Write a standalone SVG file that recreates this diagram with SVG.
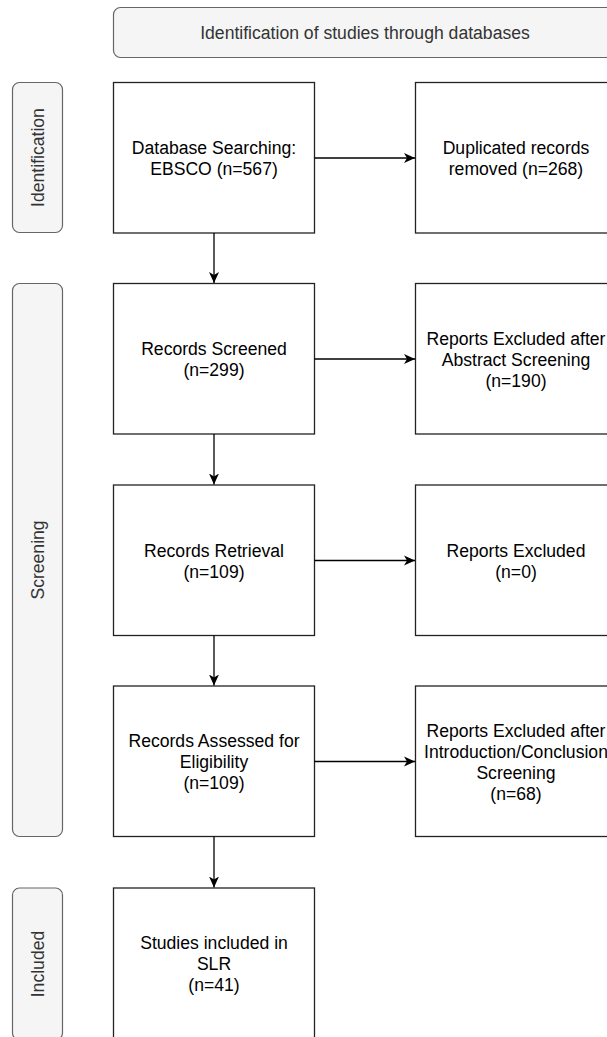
<svg xmlns="http://www.w3.org/2000/svg" width="607" height="1037" viewBox="0 0 607 1037">
<style>
.lane{fill:#f5f5f5;stroke:#666;stroke-width:1.2}
.box{fill:#fff;stroke:#222;stroke-width:1.3}
.t{font-family:"Liberation Sans",Arial,sans-serif;font-size:17.6px;fill:#000;text-anchor:middle}
.lt{font-family:"Liberation Sans",Arial,sans-serif;font-size:17.6px;fill:#333;text-anchor:middle}
.c{stroke:#000;stroke-width:1.3;fill:none}
</style>
<defs>
<marker id="ah" markerWidth="12" markerHeight="12" viewBox="0 0 12 12" refX="11" refY="6" orient="auto" markerUnits="userSpaceOnUse">
<path d="M0,1 L11,6 L0,11 L3,6 Z" fill="#000"/>
</marker>
</defs>
<rect width="607" height="1037" fill="#fff"/>
<g id="header">
<rect class="lane" x="113.5" y="7.5" width="510" height="50" rx="7"/>
<text class="lt" x="365" y="38.5">Identification of studies through databases</text>
</g>
<g id="lane-identification">
<rect class="lane" x="12.5" y="82.5" width="50" height="150" rx="7"/>
<text class="lt" transform="translate(43.5,157.5) rotate(-90)">Identification</text>
</g>
<g id="lane-screening">
<rect class="lane" x="12.5" y="283.5" width="50" height="553" rx="7"/>
<text class="lt" transform="translate(43.5,560) rotate(-90)">Screening</text>
</g>
<g id="lane-included">
<rect class="lane" x="12.5" y="888" width="50" height="152" rx="7"/>
<text class="lt" transform="translate(43.5,964) rotate(-90)">Included</text>
</g>
<g id="n1">
<rect class="box" x="113.5" y="82.5" width="201" height="150.5"/>
<text class="t" x="214" y="154">Database Searching:</text>
<text class="t" x="214" y="175">EBSCO (n=567)</text>
</g>
<g id="n2">
<rect class="box" x="415.5" y="82.5" width="201" height="150.5"/>
<text class="t" x="516" y="154">Duplicated records</text>
<text class="t" x="516" y="175">removed (n=268)</text>
</g>
<g id="n3">
<rect class="box" x="113.5" y="283.5" width="201" height="150.5"/>
<text class="t" x="214" y="355">Records Screened</text>
<text class="t" x="214" y="376">(n=299)</text>
</g>
<g id="n4">
<rect class="box" x="415.5" y="283.5" width="201" height="150.5"/>
<text class="t" x="516" y="344.5">Reports Excluded after</text>
<text class="t" x="516" y="365.5">Abstract Screening</text>
<text class="t" x="516" y="386.5">(n=190)</text>
</g>
<g id="n5">
<rect class="box" x="113.5" y="485" width="201" height="150.5"/>
<text class="t" x="214" y="556.5">Records Retrieval</text>
<text class="t" x="214" y="577.5">(n=109)</text>
</g>
<g id="n6">
<rect class="box" x="415.5" y="485" width="201" height="150.5"/>
<text class="t" x="516" y="556.5">Reports Excluded</text>
<text class="t" x="516" y="577.5">(n=0)</text>
</g>
<g id="n7">
<rect class="box" x="113.5" y="686" width="201" height="150.5"/>
<text class="t" x="214" y="747">Records Assessed for</text>
<text class="t" x="214" y="768">Eligibility</text>
<text class="t" x="214" y="789">(n=109)</text>
</g>
<g id="n8">
<rect class="box" x="415.5" y="686" width="201" height="150.5"/>
<text class="t" x="516" y="736.5">Reports Excluded after</text>
<text class="t" x="516" y="757.5">Introduction/Conclusion</text>
<text class="t" x="516" y="778.5">Screening</text>
<text class="t" x="516" y="799.5">(n=68)</text>
</g>
<g id="n9">
<rect class="box" x="113.5" y="888" width="201" height="152"/>
<text class="t" x="214" y="948.5">Studies included in</text>
<text class="t" x="214" y="969.5">SLR</text>
<text class="t" x="214" y="990.5">(n=41)</text>
</g>
<g id="connectors">
<line class="c" x1="314.5" y1="158" x2="415" y2="158" marker-end="url(#ah)"/>
<line class="c" x1="314.5" y1="359" x2="415" y2="359" marker-end="url(#ah)"/>
<line class="c" x1="314.5" y1="560.5" x2="415" y2="560.5" marker-end="url(#ah)"/>
<line class="c" x1="314.5" y1="761.5" x2="415" y2="761.5" marker-end="url(#ah)"/>
<line class="c" x1="214" y1="233" x2="214" y2="283" marker-end="url(#ah)"/>
<line class="c" x1="214" y1="434" x2="214" y2="484.5" marker-end="url(#ah)"/>
<line class="c" x1="214" y1="635.5" x2="214" y2="685.5" marker-end="url(#ah)"/>
<line class="c" x1="214" y1="836.5" x2="214" y2="887.5" marker-end="url(#ah)"/>
</g>
</svg>
